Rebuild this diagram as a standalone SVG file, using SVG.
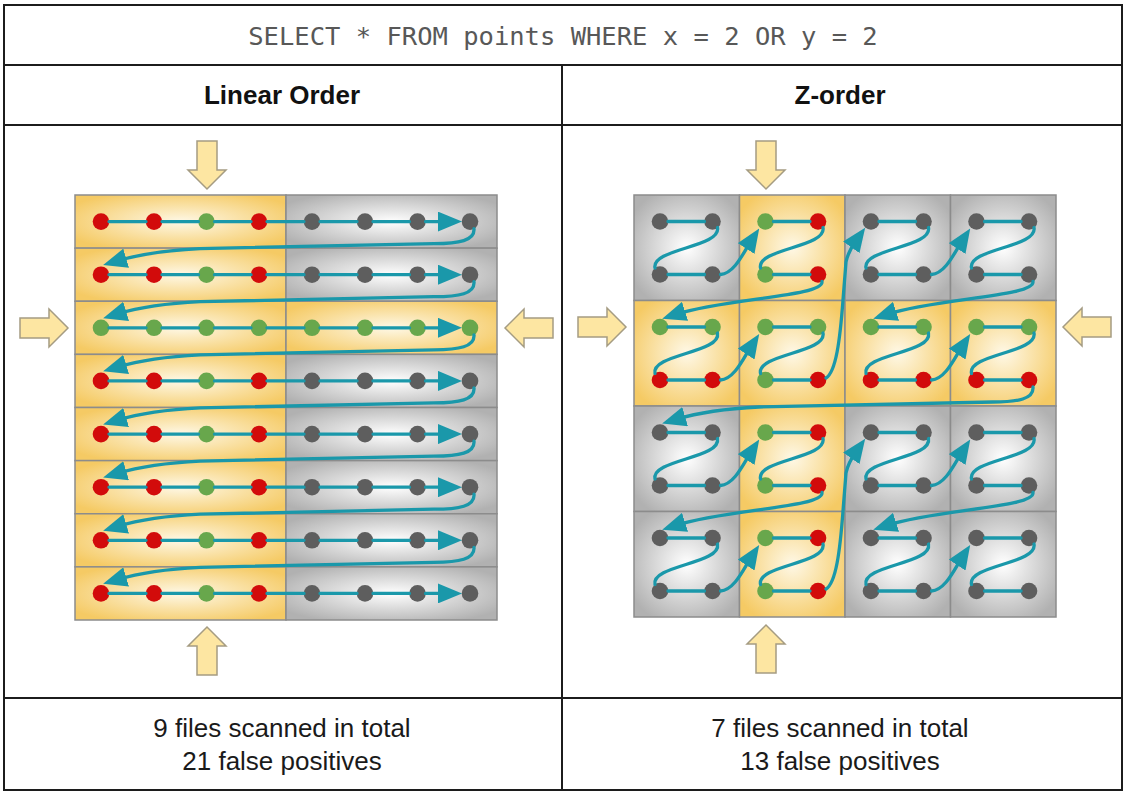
<svg xmlns="http://www.w3.org/2000/svg" width="1128" height="795" viewBox="0 0 1128 795">
<defs>
 <radialGradient id="gy" cx="0.5" cy="0.5" r="0.6">
  <stop offset="0" stop-color="#fef8e6"/>
  <stop offset="1" stop-color="#f5ca64"/>
 </radialGradient>
 <radialGradient id="gg" cx="0.5" cy="0.5" r="0.6">
  <stop offset="0" stop-color="#ffffff"/>
  <stop offset="1" stop-color="#b1b1b1"/>
 </radialGradient>
 <marker id="ah" viewBox="0 0 24 20" refX="9" refY="10" markerWidth="24" markerHeight="20" markerUnits="userSpaceOnUse" orient="auto">
  <path d="M0,0 L24,10 L0,20 Z" fill="#1a98aa"/>
 </marker>
 <path id="blk" d="M-10,-48 H10 V-19 H19 L0,0 L-19,-19 H-10 Z"/>
</defs>
<style>
 .frame{fill:none;stroke:#1c1c1c;stroke-width:2}
 .sql{font-family:"DejaVu Sans Mono","Liberation Mono",monospace;font-size:25.5px;fill:#585858}
 .ttl{font-family:"Liberation Sans",Arial,sans-serif;font-weight:bold;font-size:26px;fill:#111}
 .ftr{font-family:"Liberation Sans",Arial,sans-serif;font-size:26px;fill:#1a1a1a}
 .cy{fill:url(#gy);stroke:#8c8c8c;stroke-width:1.5}
 .cg{fill:url(#gg);stroke:#8c8c8c;stroke-width:1.5}
 .dr{fill:#d20b0b} .dg{fill:#68a74c} .dk{fill:#5e5e5e}
 .ln{fill:none;stroke:#1a98aa;stroke-width:3.3;stroke-linecap:round}
 .ar{marker-end:url(#ah)}
 .qa{fill:#fde6a2;stroke:#a59c82;stroke-width:1.5}
</style>
<rect width="1128" height="795" fill="#ffffff"/>

<g id="table">
 <rect x="4" y="5" width="1118" height="785" class="frame"/>
 <path class="frame" d="M4,65 H1122 M4,125 H1122 M4,698 H1122 M562,65 V790"/>
</g>
<g id="query"><text x="563" y="45" text-anchor="middle" class="sql">SELECT * FROM points WHERE x = 2 OR y = 2</text></g>
<g id="title-linear"><text x="282" y="104" text-anchor="middle" class="ttl">Linear Order</text></g>
<g id="title-z"><text x="840" y="104" text-anchor="middle" class="ttl">Z-order</text></g>
<g id="result-linear"><text x="282" y="737" text-anchor="middle" class="ftr">9 files scanned in total</text><text x="282" y="770" text-anchor="middle" class="ftr">21 false positives</text></g>
<g id="result-z"><text x="840" y="737" text-anchor="middle" class="ftr">7 files scanned in total</text><text x="840" y="770" text-anchor="middle" class="ftr">13 false positives</text></g>

<!-- Linear order files -->
<g id="lin-r0a"><rect x="75" y="195" width="211" height="53.125" class="cy"/><circle cx="101" cy="221.6" r="8.3" class="dr"/><circle cx="154" cy="221.6" r="8.3" class="dr"/><circle cx="206.5" cy="221.6" r="8.3" class="dg"/><circle cx="259" cy="221.6" r="8.3" class="dr"/></g>
<g id="lin-r0b"><rect x="286" y="195" width="211" height="53.125" class="cg"/><circle cx="312" cy="221.6" r="8.3" class="dk"/><circle cx="365" cy="221.6" r="8.3" class="dk"/><circle cx="417.5" cy="221.6" r="8.3" class="dk"/><circle cx="470" cy="221.6" r="8.3" class="dk"/></g>
<g id="lin-r1a"><rect x="75" y="248.125" width="211" height="53.125" class="cy"/><circle cx="101" cy="274.7" r="8.3" class="dr"/><circle cx="154" cy="274.7" r="8.3" class="dr"/><circle cx="206.5" cy="274.7" r="8.3" class="dg"/><circle cx="259" cy="274.7" r="8.3" class="dr"/></g>
<g id="lin-r1b"><rect x="286" y="248.125" width="211" height="53.125" class="cg"/><circle cx="312" cy="274.7" r="8.3" class="dk"/><circle cx="365" cy="274.7" r="8.3" class="dk"/><circle cx="417.5" cy="274.7" r="8.3" class="dk"/><circle cx="470" cy="274.7" r="8.3" class="dk"/></g>
<g id="lin-r2a"><rect x="75" y="301.25" width="211" height="53.125" class="cy"/><circle cx="101" cy="327.8" r="8.3" class="dg"/><circle cx="154" cy="327.8" r="8.3" class="dg"/><circle cx="206.5" cy="327.8" r="8.3" class="dg"/><circle cx="259" cy="327.8" r="8.3" class="dg"/></g>
<g id="lin-r2b"><rect x="286" y="301.25" width="211" height="53.125" class="cy"/><circle cx="312" cy="327.8" r="8.3" class="dg"/><circle cx="365" cy="327.8" r="8.3" class="dg"/><circle cx="417.5" cy="327.8" r="8.3" class="dg"/><circle cx="470" cy="327.8" r="8.3" class="dg"/></g>
<g id="lin-r3a"><rect x="75" y="354.375" width="211" height="53.125" class="cy"/><circle cx="101" cy="380.9" r="8.3" class="dr"/><circle cx="154" cy="380.9" r="8.3" class="dr"/><circle cx="206.5" cy="380.9" r="8.3" class="dg"/><circle cx="259" cy="380.9" r="8.3" class="dr"/></g>
<g id="lin-r3b"><rect x="286" y="354.375" width="211" height="53.125" class="cg"/><circle cx="312" cy="380.9" r="8.3" class="dk"/><circle cx="365" cy="380.9" r="8.3" class="dk"/><circle cx="417.5" cy="380.9" r="8.3" class="dk"/><circle cx="470" cy="380.9" r="8.3" class="dk"/></g>
<g id="lin-r4a"><rect x="75" y="407.5" width="211" height="53.125" class="cy"/><circle cx="101" cy="434.1" r="8.3" class="dr"/><circle cx="154" cy="434.1" r="8.3" class="dr"/><circle cx="206.5" cy="434.1" r="8.3" class="dg"/><circle cx="259" cy="434.1" r="8.3" class="dr"/></g>
<g id="lin-r4b"><rect x="286" y="407.5" width="211" height="53.125" class="cg"/><circle cx="312" cy="434.1" r="8.3" class="dk"/><circle cx="365" cy="434.1" r="8.3" class="dk"/><circle cx="417.5" cy="434.1" r="8.3" class="dk"/><circle cx="470" cy="434.1" r="8.3" class="dk"/></g>
<g id="lin-r5a"><rect x="75" y="460.625" width="211" height="53.125" class="cy"/><circle cx="101" cy="487.2" r="8.3" class="dr"/><circle cx="154" cy="487.2" r="8.3" class="dr"/><circle cx="206.5" cy="487.2" r="8.3" class="dg"/><circle cx="259" cy="487.2" r="8.3" class="dr"/></g>
<g id="lin-r5b"><rect x="286" y="460.625" width="211" height="53.125" class="cg"/><circle cx="312" cy="487.2" r="8.3" class="dk"/><circle cx="365" cy="487.2" r="8.3" class="dk"/><circle cx="417.5" cy="487.2" r="8.3" class="dk"/><circle cx="470" cy="487.2" r="8.3" class="dk"/></g>
<g id="lin-r6a"><rect x="75" y="513.75" width="211" height="53.125" class="cy"/><circle cx="101" cy="540.3" r="8.3" class="dr"/><circle cx="154" cy="540.3" r="8.3" class="dr"/><circle cx="206.5" cy="540.3" r="8.3" class="dg"/><circle cx="259" cy="540.3" r="8.3" class="dr"/></g>
<g id="lin-r6b"><rect x="286" y="513.75" width="211" height="53.125" class="cg"/><circle cx="312" cy="540.3" r="8.3" class="dk"/><circle cx="365" cy="540.3" r="8.3" class="dk"/><circle cx="417.5" cy="540.3" r="8.3" class="dk"/><circle cx="470" cy="540.3" r="8.3" class="dk"/></g>
<g id="lin-r7a"><rect x="75" y="566.875" width="211" height="53.125" class="cy"/><circle cx="101" cy="593.4" r="8.3" class="dr"/><circle cx="154" cy="593.4" r="8.3" class="dr"/><circle cx="206.5" cy="593.4" r="8.3" class="dg"/><circle cx="259" cy="593.4" r="8.3" class="dr"/></g>
<g id="lin-r7b"><rect x="286" y="566.875" width="211" height="53.125" class="cg"/><circle cx="312" cy="593.4" r="8.3" class="dk"/><circle cx="365" cy="593.4" r="8.3" class="dk"/><circle cx="417.5" cy="593.4" r="8.3" class="dk"/><circle cx="470" cy="593.4" r="8.3" class="dk"/></g>

<!-- Z-order files -->
<g id="z-c00"><rect x="634" y="195" width="105.5" height="105.5" class="cg"/><circle cx="660" cy="221.5" r="8.3" class="dk"/><circle cx="712.5" cy="221.5" r="8.3" class="dk"/><circle cx="660" cy="274.5" r="8.3" class="dk"/><circle cx="712.5" cy="274.5" r="8.3" class="dk"/></g>
<g id="z-c10"><rect x="739.5" y="195" width="105.5" height="105.5" class="cy"/><circle cx="765.5" cy="221.5" r="8.3" class="dg"/><circle cx="818" cy="221.5" r="8.3" class="dr"/><circle cx="765.5" cy="274.5" r="8.3" class="dg"/><circle cx="818" cy="274.5" r="8.3" class="dr"/></g>
<g id="z-c20"><rect x="845" y="195" width="105.5" height="105.5" class="cg"/><circle cx="871" cy="221.5" r="8.3" class="dk"/><circle cx="923.5" cy="221.5" r="8.3" class="dk"/><circle cx="871" cy="274.5" r="8.3" class="dk"/><circle cx="923.5" cy="274.5" r="8.3" class="dk"/></g>
<g id="z-c30"><rect x="950.5" y="195" width="105.5" height="105.5" class="cg"/><circle cx="976.5" cy="221.5" r="8.3" class="dk"/><circle cx="1029" cy="221.5" r="8.3" class="dk"/><circle cx="976.5" cy="274.5" r="8.3" class="dk"/><circle cx="1029" cy="274.5" r="8.3" class="dk"/></g>
<g id="z-c01"><rect x="634" y="300.5" width="105.5" height="105.5" class="cy"/><circle cx="660" cy="327" r="8.3" class="dg"/><circle cx="712.5" cy="327" r="8.3" class="dg"/><circle cx="660" cy="380" r="8.3" class="dr"/><circle cx="712.5" cy="380" r="8.3" class="dr"/></g>
<g id="z-c11"><rect x="739.5" y="300.5" width="105.5" height="105.5" class="cy"/><circle cx="765.5" cy="327" r="8.3" class="dg"/><circle cx="818" cy="327" r="8.3" class="dg"/><circle cx="765.5" cy="380" r="8.3" class="dg"/><circle cx="818" cy="380" r="8.3" class="dr"/></g>
<g id="z-c21"><rect x="845" y="300.5" width="105.5" height="105.5" class="cy"/><circle cx="871" cy="327" r="8.3" class="dg"/><circle cx="923.5" cy="327" r="8.3" class="dg"/><circle cx="871" cy="380" r="8.3" class="dr"/><circle cx="923.5" cy="380" r="8.3" class="dr"/></g>
<g id="z-c31"><rect x="950.5" y="300.5" width="105.5" height="105.5" class="cy"/><circle cx="976.5" cy="327" r="8.3" class="dg"/><circle cx="1029" cy="327" r="8.3" class="dg"/><circle cx="976.5" cy="380" r="8.3" class="dr"/><circle cx="1029" cy="380" r="8.3" class="dr"/></g>
<g id="z-c02"><rect x="634" y="406" width="105.5" height="105.5" class="cg"/><circle cx="660" cy="432.5" r="8.3" class="dk"/><circle cx="712.5" cy="432.5" r="8.3" class="dk"/><circle cx="660" cy="485.5" r="8.3" class="dk"/><circle cx="712.5" cy="485.5" r="8.3" class="dk"/></g>
<g id="z-c12"><rect x="739.5" y="406" width="105.5" height="105.5" class="cy"/><circle cx="765.5" cy="432.5" r="8.3" class="dg"/><circle cx="818" cy="432.5" r="8.3" class="dr"/><circle cx="765.5" cy="485.5" r="8.3" class="dg"/><circle cx="818" cy="485.5" r="8.3" class="dr"/></g>
<g id="z-c22"><rect x="845" y="406" width="105.5" height="105.5" class="cg"/><circle cx="871" cy="432.5" r="8.3" class="dk"/><circle cx="923.5" cy="432.5" r="8.3" class="dk"/><circle cx="871" cy="485.5" r="8.3" class="dk"/><circle cx="923.5" cy="485.5" r="8.3" class="dk"/></g>
<g id="z-c32"><rect x="950.5" y="406" width="105.5" height="105.5" class="cg"/><circle cx="976.5" cy="432.5" r="8.3" class="dk"/><circle cx="1029" cy="432.5" r="8.3" class="dk"/><circle cx="976.5" cy="485.5" r="8.3" class="dk"/><circle cx="1029" cy="485.5" r="8.3" class="dk"/></g>
<g id="z-c03"><rect x="634" y="511.5" width="105.5" height="105.5" class="cg"/><circle cx="660" cy="538" r="8.3" class="dk"/><circle cx="712.5" cy="538" r="8.3" class="dk"/><circle cx="660" cy="591" r="8.3" class="dk"/><circle cx="712.5" cy="591" r="8.3" class="dk"/></g>
<g id="z-c13"><rect x="739.5" y="511.5" width="105.5" height="105.5" class="cy"/><circle cx="765.5" cy="538" r="8.3" class="dg"/><circle cx="818" cy="538" r="8.3" class="dr"/><circle cx="765.5" cy="591" r="8.3" class="dg"/><circle cx="818" cy="591" r="8.3" class="dr"/></g>
<g id="z-c23"><rect x="845" y="511.5" width="105.5" height="105.5" class="cg"/><circle cx="871" cy="538" r="8.3" class="dk"/><circle cx="923.5" cy="538" r="8.3" class="dk"/><circle cx="871" cy="591" r="8.3" class="dk"/><circle cx="923.5" cy="591" r="8.3" class="dk"/></g>
<g id="z-c33"><rect x="950.5" y="511.5" width="105.5" height="105.5" class="cg"/><circle cx="976.5" cy="538" r="8.3" class="dk"/><circle cx="1029" cy="538" r="8.3" class="dk"/><circle cx="976.5" cy="591" r="8.3" class="dk"/><circle cx="1029" cy="591" r="8.3" class="dk"/></g>

<g id="connectors">
 <!-- linear rows -->
 <path class="ln ar" d="M109,221.6 H146 M162,221.6 H198.5 M214.5,221.6 H251 M267,221.6 H304 M320,221.6 H357 M373,221.6 H409.5 M425.5,221.6 H447"/>
 <path class="ln ar" d="M109,274.7 H146 M162,274.7 H198.5 M214.5,274.7 H251 M267,274.7 H304 M320,274.7 H357 M373,274.7 H409.5 M425.5,274.7 H447"/>
 <path class="ln ar" d="M109,327.8 H146 M162,327.8 H198.5 M214.5,327.8 H251 M267,327.8 H304 M320,327.8 H357 M373,327.8 H409.5 M425.5,327.8 H447"/>
 <path class="ln ar" d="M109,380.9 H146 M162,380.9 H198.5 M214.5,380.9 H251 M267,380.9 H304 M320,380.9 H357 M373,380.9 H409.5 M425.5,380.9 H447"/>
 <path class="ln ar" d="M109,434.1 H146 M162,434.1 H198.5 M214.5,434.1 H251 M267,434.1 H304 M320,434.1 H357 M373,434.1 H409.5 M425.5,434.1 H447"/>
 <path class="ln ar" d="M109,487.2 H146 M162,487.2 H198.5 M214.5,487.2 H251 M267,487.2 H304 M320,487.2 H357 M373,487.2 H409.5 M425.5,487.2 H447"/>
 <path class="ln ar" d="M109,540.3 H146 M162,540.3 H198.5 M214.5,540.3 H251 M267,540.3 H304 M320,540.3 H357 M373,540.3 H409.5 M425.5,540.3 H447"/>
 <path class="ln ar" d="M109,593.4 H146 M162,593.4 H198.5 M214.5,593.4 H251 M267,593.4 H304 M320,593.4 H357 M373,593.4 H409.5 M425.5,593.4 H447"/>
 <!-- linear returns -->
 <path class="ln ar" d="M474,228.6 C475,240.6 459,243.6 434,243.6 L200,248.6 Q150,251.1 117.5,260.8"/>
 <path class="ln ar" d="M474,281.7 C475,293.7 459,296.7 434,296.7 L200,301.7 Q150,304.2 117.5,313.9"/>
 <path class="ln ar" d="M474,334.8 C475,346.8 459,349.8 434,349.8 L200,354.8 Q150,357.3 117.5,367"/>
 <path class="ln ar" d="M474,387.9 C475,399.9 459,402.9 434,402.9 L200,407.9 Q150,410.4 117.5,420.1"/>
 <path class="ln ar" d="M474,441.1 C475,453.1 459,456.1 434,456.1 L200,461.1 Q150,463.6 117.5,473.3"/>
 <path class="ln ar" d="M474,494.2 C475,506.2 459,509.2 434,509.2 L200,514.2 Q150,516.7 117.5,526.4"/>
 <path class="ln ar" d="M474,547.3 C475,559.3 459,562.3 434,562.3 L200,567.3 Q150,569.8 117.5,579.5"/>

 <!-- Z-order in-cell paths -->
 <path class="ln" d="M668,221.5 H704.5 M717.5,227.5 C721.5,247.5 651,248.5 655,268 M668,274.5 H704.5"/>
 <path class="ln" d="M773.5,221.5 H810 M823,227.5 C827,247.5 756.5,248.5 760.5,268 M773.5,274.5 H810"/>
 <path class="ln" d="M879,221.5 H915.5 M928.5,227.5 C932.5,247.5 862,248.5 866,268 M879,274.5 H915.5"/>
 <path class="ln" d="M984.5,221.5 H1021 M1034,227.5 C1038,247.5 967.5,248.5 971.5,268 M984.5,274.5 H1021"/>
 <path class="ln" d="M668,327 H704.5 M717.5,333 C721.5,353 651,354 655,373.5 M668,380 H704.5"/>
 <path class="ln" d="M773.5,327 H810 M823,333 C827,353 756.5,354 760.5,373.5 M773.5,380 H810"/>
 <path class="ln" d="M879,327 H915.5 M928.5,333 C932.5,353 862,354 866,373.5 M879,380 H915.5"/>
 <path class="ln" d="M984.5,327 H1021 M1034,333 C1038,353 967.5,354 971.5,373.5 M984.5,380 H1021"/>
 <path class="ln" d="M668,432.5 H704.5 M717.5,438.5 C721.5,458.5 651,459.5 655,479 M668,485.5 H704.5"/>
 <path class="ln" d="M773.5,432.5 H810 M823,438.5 C827,458.5 756.5,459.5 760.5,479 M773.5,485.5 H810"/>
 <path class="ln" d="M879,432.5 H915.5 M928.5,438.5 C932.5,458.5 862,459.5 866,479 M879,485.5 H915.5"/>
 <path class="ln" d="M984.5,432.5 H1021 M1034,438.5 C1038,458.5 967.5,459.5 971.5,479 M984.5,485.5 H1021"/>
 <path class="ln" d="M668,538 H704.5 M717.5,544 C721.5,564 651,565 655,584.5 M668,591 H704.5"/>
 <path class="ln" d="M773.5,538 H810 M823,544 C827,564 756.5,565 760.5,584.5 M773.5,591 H810"/>
 <path class="ln" d="M879,538 H915.5 M928.5,544 C932.5,564 862,565 866,584.5 M879,591 H915.5"/>
 <path class="ln" d="M984.5,538 H1021 M1034,544 C1038,564 967.5,565 971.5,584.5 M984.5,591 H1021"/>

 <!-- Z-order transitions: to right neighbour -->
 <path class="ln ar" d="M720.5,274.5 C734.5,273.5 743.5,252.5 751,241"/>
 <path class="ln ar" d="M720.5,380 C734.5,379 743.5,358 751,346.5"/>
 <path class="ln ar" d="M931.5,274.5 C945.5,273.5 954.5,252.5 962,241"/>
 <path class="ln ar" d="M931.5,380 C945.5,379 954.5,358 962,346.5"/>
 <path class="ln ar" d="M720.5,485.5 C734.5,484.5 743.5,463.5 751,452"/>
 <path class="ln ar" d="M720.5,591 C734.5,590 743.5,569 751,557.5"/>
 <path class="ln ar" d="M931.5,485.5 C945.5,484.5 954.5,463.5 962,452"/>
 <path class="ln ar" d="M931.5,591 C945.5,590 954.5,569 962,557.5"/>
 <!-- Z-order transitions: back to left, next row -->
 <path class="ln ar" d="M822,281.5 C824,296.5 726.5,298.1 676.5,314.1"/>
 <path class="ln ar" d="M1033,281.5 C1035,296.5 937.5,298.1 887.5,314.1"/>
 <path class="ln ar" d="M822,492.5 C824,507.5 726.5,509.1 676.5,525.1"/>
 <path class="ln ar" d="M1033,492.5 C1035,507.5 937.5,509.1 887.5,525.1"/>
 <path class="ln ar" d="M1033,387 C1034,399 1018,402 993,402 L759,407 Q709,409.5 676.5,419.2"/>
 <!-- Z-order transitions: up to next block -->
 <path class="ln ar" d="M826,378 C836,372 840,340 843,300 L846,262 Q848,252 856.5,240"/>
 <path class="ln ar" d="M826,589 C836,583 840,551 843,511 L846,473 Q848,463 856.5,451"/>
</g>

<g id="query-arrows">
 <use href="#blk" class="qa" transform="translate(207,189)"/>
 <use href="#blk" class="qa" transform="translate(207,627) rotate(180)"/>
 <use href="#blk" class="qa" transform="translate(68,328) rotate(-90)"/>
 <use href="#blk" class="qa" transform="translate(505,328) rotate(90)"/>
 <use href="#blk" class="qa" transform="translate(766,189)"/>
 <use href="#blk" class="qa" transform="translate(766,625) rotate(180)"/>
 <use href="#blk" class="qa" transform="translate(626,327) rotate(-90)"/>
 <use href="#blk" class="qa" transform="translate(1063,327) rotate(90)"/>
</g>
</svg>
